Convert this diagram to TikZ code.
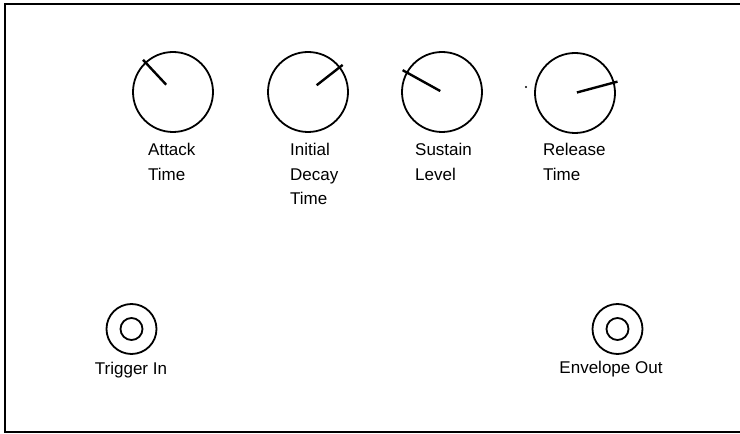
\documentclass[tikz,border=0pt]{standalone}
\usepackage{fontspec}
\setmainfont{Liberation Sans}
\tikzset{
  knob/.style={draw, circle, line width=1.8pt, minimum size=80pt, inner sep=0pt},
  jackout/.style={draw, circle, line width=1.8pt, minimum size=50pt, inner sep=0pt},
  jackin/.style={draw, circle, line width=1.8pt, minimum size=22pt, inner sep=0pt},
  pointer/.style={line width=2.4pt},
  lbl/.style={inner sep=0pt, align=left, font=\fontsize{17}{24.5}\selectfont},
}
\begin{document}
\begin{tikzpicture}[x=1pt, y=1pt]
\useasboundingbox (0,0) rectangle (740,434);
% panel edge, open on the right
\draw[line width=2.6pt] (740,430) -- (5,430) -- (5,2) -- (740,2);
% envelope knobs
\node[knob] (attack) at (173,342) {};
\node[knob] (decay) at (308,342) {};
\node[knob] (sustain) at (442,342) {};
\node[knob] (release) at (575,341) {};
\draw[pointer] (attack.center) ++(133:10) -- ++(133:34);
\draw[pointer] (decay.center) ++(38:11) -- ++(38:33);
\draw[pointer] (sustain.center) ++(151:2) -- ++(151:43);
\draw[pointer] (release.center) ++(15:2) -- ++(15:42);
\fill (526,347) circle (1.1pt);
\node[lbl, anchor=north west] (attacklbl) at (148,291) {Attack\\Time};
\node[lbl, anchor=north west] (decaylbl) at (290,291) {Initial\\Decay\\Time};
\node[lbl, anchor=north west] (sustainlbl) at (415,291) {Sustain\\Level};
\node[lbl, anchor=north west] (releaselbl) at (543,291) {Release\\Time};
% jacks
\node[jackout] (trigger) at (131.5,105) {};
\node[jackin] (triggerhole) at (trigger.center) {};
\node[jackout] (envout) at (617.5,105) {};
\node[jackin] (envouthole) at (envout.center) {};
\node[lbl, anchor=base] (triggerlbl) at (131,59) {Trigger In};
\node[lbl, anchor=base] (envoutlbl) at (611,60) {Envelope Out};
\end{tikzpicture}
\end{document}
